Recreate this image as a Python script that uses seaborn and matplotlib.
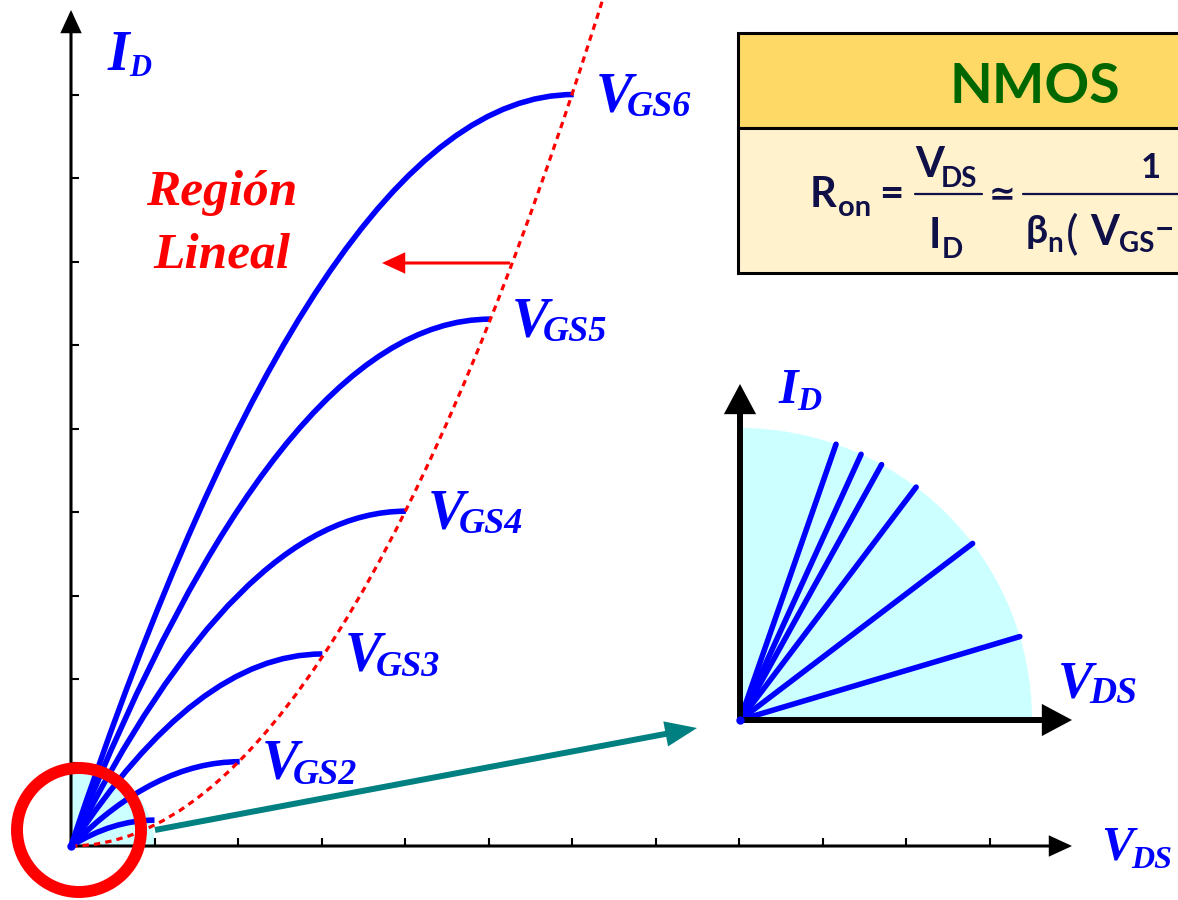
import numpy as np
import pandas as pd
import matplotlib
matplotlib.use("Agg")
import matplotlib.pyplot as plt
from matplotlib.path import Path
from matplotlib.patches import PathPatch, Wedge, Circle, Rectangle, FancyArrowPatch
from matplotlib.lines import Line2D
import seaborn as sns

# output characteristic curves: end of the linear region for each VGS (tick units)
sat_vds = [1.00, 2.02, 3.01, 4.01, 5.02, 6.02]
sat_id = [0.31, 1.01, 2.30, 4.01, 6.31, 9.00]
curve_labels = ["", "GS2", "GS3", "GS4", "GS5", "GS6"]

# upper end of the red dashed boundary VDS = VGS - VT
boundary_end = (6.40, 10.24)

x_ticks = [1, 2, 3, 4, 5, 6, 7, 8, 9, 10, 11]
y_ticks = [1, 2, 3, 4, 5, 6, 7, 8, 9]

# zoomed view near the origin: angle of each straight line (degrees)
inset_angles = [16.6, 37.2, 52.9, 61.0, 65.5, 70.8]

BLUE = "#0000FF"
RED = "#FF0000"
TEAL = "#008080"
CYAN = "#CCFFFF"
NAVY = "#101048"

sns.set_theme(style="white")
plt.rcParams["font.family"] = ["Liberation Serif", "DejaVu Sans"]

W, H = 1178, 900
fig = plt.figure(figsize=(W / 100, H / 100), dpi=100)

# main axes: 1 tick = 83.5 px, origin at pixel (71, 846)
unit = 83.5
ox, oy = 71, 846
ax = fig.add_axes([0, 0, 1, 1])
ax.axis("off")


def arrow(a, p0, p1, color, lw, hl, hw, z=3):
    a.add_patch(FancyArrowPatch(p0, p1, arrowstyle=f"-|>,head_length={hl},head_width={hw}",
                                mutation_scale=1, color=color, lw=lw, shrinkA=0, shrinkB=0,
                                zorder=z, joinstyle="miter", capstyle="butt"))


def ptext(x, y, s, size, color, **kw):
    # text placed by pixel position (from top-left), baseline aligned
    fig.text(x / W, 1 - y / H, s, fontsize=size, color=color, va="baseline", ha="left", **kw)


# light cyan quarter near origin
ax.add_patch(Wedge((0, 0), 1.0, 0, 90, color=CYAN, lw=0, zorder=1))

# axes with arrows and ticks
arrow(ax, (0, 0), ((1072 - ox) / unit, 0), "black", 2.2, 13, 6, z=2)
arrow(ax, (0, 0), (0, (oy - 10) / unit), "black", 2.2, 13, 6, z=2)
tick_len = 8 / unit
for t in x_ticks:
    ax.plot([t, t], [0, tick_len], color="black", lw=1.5, zorder=2, solid_capstyle="butt")
for t in y_ticks:
    ax.plot([0, tick_len], [t, t], color="black", lw=1.5, zorder=2, solid_capstyle="butt")

# ID-VDS curves in the linear region (parabola as quadratic Bezier)
for a, h in zip(sat_vds, sat_id):
    p = Path([(0, 0), (a / 2, h), (a, h)], [Path.MOVETO, Path.CURVE3, Path.CURVE3])
    ax.add_patch(PathPatch(p, fill=False, ec=BLUE, lw=4.0, zorder=4, capstyle="butt"))

# boundary of the linear region
bx, by = boundary_end
p = Path([(0, 0), (bx / 2, 0), (bx, by)], [Path.MOVETO, Path.CURVE3, Path.CURVE3])
ax.add_patch(PathPatch(p, fill=False, ec=RED, lw=2.3, ls=(0, (2, 1.6)), zorder=5))

ax.plot(0, 0, "o", color=BLUE, ms=5, zorder=6)

# curve labels
for a, h, lab in zip(sat_vds, sat_id, curve_labels):
    if not lab:
        continue
    ax.annotate("V", (a, h), xytext=(22, -17), textcoords="offset pixels", fontsize=40,
                color=BLUE, style="italic", weight="bold", va="baseline", ha="left")
    ax.annotate(lab, (a, h), xytext=(53, -22), textcoords="offset pixels", fontsize=26,
                color=BLUE, style="italic", weight="bold", va="baseline", ha="left")

# axis labels
ptext(108, 70, "I", 40, BLUE, style="italic", weight="bold")
ptext(129, 76, "D", 22, BLUE, style="italic", weight="bold")
ptext(1101, 860, "V", 35, BLUE, style="italic", weight="bold")
ptext(1131, 868, "DS", 23, BLUE, style="italic", weight="bold")

# Region Lineal
fig.text(222 / W, 1 - 205 / H, "Región", fontsize=37, color=RED, style="italic",
         weight="bold", ha="center", va="baseline")
fig.text(222 / W, 1 - 267 / H, "Lineal", fontsize=37, color=RED, style="italic",
         weight="bold", ha="center", va="baseline")
arrow(ax, ((510 - ox) / unit, (oy - 263) / unit), ((382 - ox) / unit, (oy - 263) / unit),
      RED, 2.2, 13, 6, z=5)

# red ring and teal arrow to the zoomed view
ax.add_patch(Circle(((79 - ox) / unit, (oy - 830) / unit), 62 / unit, fill=False,
                    ec=RED, lw=8.6, zorder=7))
arrow(ax, ((155 - ox) / unit, (oy - 830) / unit), ((697 - ox) / unit, (oy - 728) / unit),
      TEAL, 4.3, 15, 6, z=6)

ax.set_xlim(-ox / unit, (W - ox) / unit)
ax.set_ylim(-(H - oy) / unit, oy / unit)

# zoomed view near the origin
iu = 292
iox, ioy = 740, 720
l, r, t, b = 700, 1178, 360, 760
ax2 = fig.add_axes([l / W, 1 - b / H, (r - l) / W, (b - t) / H])
ax2.patch.set_alpha(0)
ax2.add_patch(Wedge((0, 0), 1.0, 0, 90, color=CYAN, lw=0, zorder=1))
rows = []
for i, ang in enumerate(inset_angles):
    rad = np.deg2rad(ang)
    rows.append({"ray": i, "vds": 0.0, "id": 0.0})
    rows.append({"ray": i, "vds": np.cos(rad), "id": np.sin(rad)})
rays = pd.DataFrame(rows)
sns.lineplot(data=rays, x="vds", y="id", units="ray", estimator=None, sort=False,
             color=BLUE, lw=4.0, ax=ax2, zorder=3, legend=False)
arrow(ax2, (0, 0), ((1072 - iox) / iu, 0), "black", 4.3, 15, 8, z=4)
arrow(ax2, (0, 0), (0, (ioy - 384) / iu), "black", 4.3, 15, 8, z=4)
ax2.plot(0, 0, "o", color=BLUE, ms=5, zorder=5)
ax2.set_xlim((l - iox) / iu, (r - iox) / iu)
ax2.set_ylim((ioy - b) / iu, (ioy - t) / iu)
ax2.axis("off")

ptext(778, 403, "I", 36, BLUE, style="italic", weight="bold")
ptext(797, 410, "D", 24, BLUE, style="italic", weight="bold")
ptext(1058, 697, "V", 38, BLUE, style="italic", weight="bold")
ptext(1089, 703, "DS", 27, BLUE, style="italic", weight="bold")


# NMOS box
def fx(x):
    return x / W


def fy(y):
    return 1 - y / H


fig.add_artist(Rectangle((fx(738), fy(128)), fx(1190) - fx(738), fy(33) - fy(128),
                         transform=fig.transFigure, fc="#FFD966", ec="black", lw=2.2))
fig.add_artist(Rectangle((fx(738), fy(273)), fx(1190) - fx(738), fy(128) - fy(273),
                         transform=fig.transFigure, fc="#FFF2CC", ec="black", lw=2.2))

sans = ["Lato", "DejaVu Sans"]
ptext(949, 103, "NMOS", 40, "#006600", weight="bold", family=sans)
ptext(810, 207, "R", 30, NAVY, weight="bold", family=sans)
ptext(838, 216, "on", 21, NAVY, weight="bold", family=sans)
ptext(879, 207, "=", 30, NAVY, weight="bold", family=sans)
ptext(915, 177, "V", 30, NAVY, weight="bold", family=sans)
ptext(941, 187, "DS", 20, NAVY, weight="bold", family=sans)
fig.add_artist(Line2D([fx(915), fx(982)], [fy(194), fy(194)], color=NAVY, lw=1.6,
                      transform=fig.transFigure))
ptext(929, 248, "I", 30, NAVY, weight="bold", family=sans)
ptext(942, 258, "D", 20, NAVY, weight="bold", family=sans)
ptext(989, 204, "≃", 23, NAVY, weight="bold", family=sans)
fig.add_artist(Line2D([fx(1023), fx(1180)], [fy(194), fy(194)], color=NAVY, lw=1.6,
                      transform=fig.transFigure))
ptext(1141, 178, "1", 25, NAVY, weight="bold", family=sans)
ptext(1026, 243, "β", 28, NAVY, weight="bold", family=sans)
ptext(1047, 252, "n", 20, NAVY, weight="bold", family=sans)
ptext(1066, 249, "(", 34, NAVY, family=sans)
ptext(1090, 245, "V", 30, NAVY, weight="bold", family=sans)
ptext(1119, 252, "GS", 20, NAVY, weight="bold", family=sans)
ptext(1155, 240, "−", 24, NAVY, weight="bold", family=sans)

fig.savefig("out.png", dpi=100)
